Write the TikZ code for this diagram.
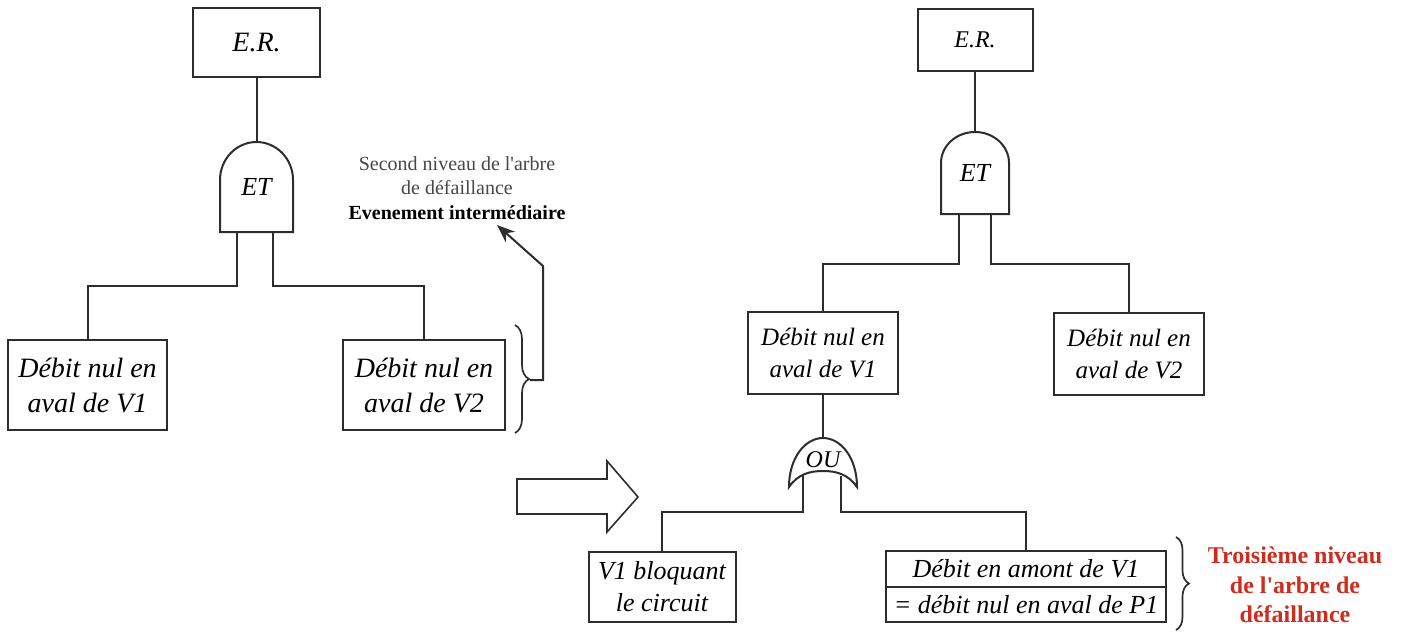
\documentclass[tikz,border=0pt]{standalone}
\usepackage{fontspec}
\setmainfont{Liberation Serif}
\usetikzlibrary{decorations.pathreplacing,arrows.meta}
\definecolor{ink}{RGB}{45,45,45}
\definecolor{levelred}{RGB}{205,45,30}
\newcommand{\fsz}[2]{\fontsize{#1pt}{#2pt}\selectfont}
\begin{document}
\begin{tikzpicture}[x=1pt,y=-1pt,
  wire/.style={draw=ink, line width=2pt},
  box/.style={wire, rectangle, inner sep=0pt, outer sep=0pt, align=center},
  gatebox/.style={rectangle, inner sep=0pt, outer sep=0pt},
  bracket/.style={wire, line width=1.7pt, decorate, decoration={brace, amplitude=#1}},
]
\useasboundingbox (0,0) rectangle (1403,632);

% ---------- left tree: second level ----------
\node[box, minimum width=127pt, minimum height=69pt, font=\fsz{28}{34}\itshape] (erL) at (256.5,42.5) {E.R.};
\node[gatebox, minimum width=73pt, minimum height=90pt, font=\fsz{26}{30}\itshape] (gL) at (256.5,187) {ET};
\draw[wire] (gL.south west) -- (220,180) arc[start angle=180, end angle=0, x radius=36.5pt, y radius=38pt] -- (gL.south east) -- cycle;
\node[box, minimum width=159pt, minimum height=90pt, font=\fsz{28}{35}\itshape] (v1L) at (87.5,385) {Débit nul en\\aval de V1};
\node[box, minimum width=162pt, minimum height=90pt, font=\fsz{28}{35}\itshape] (v2L) at (424,385) {Débit nul en\\aval de V2};

\draw[wire] (erL.south) -- (gL.north);
\coordinate (gLa) at (237,232);
\coordinate (gLb) at (273,232);
\draw[wire] (gLa) -- (237,286) -| (v1L.north);
\draw[wire] (gLb) -- (273,286) -| (v2L.north);

% annotation of the second level
\draw[bracket=14pt] (515,325) -- (515,433);
\coordinate (bLtip) at (530,380);
\node[align=center, font=\fsz{20}{24.5}, text=black!72] (ann) at (457,188)
  {Second niveau de l\textquotesingle arbre\\de défaillance\\\textcolor{black}{\bfseries Evenement intermédiaire}};
\draw[wire, -{Stealth[length=18pt,width=14pt]}] (bLtip) -- (543,380) -- (543,266) -- ([xshift=40pt,yshift=-2pt]ann.south);

% ---------- transition arrow ----------
\draw[wire, line width=1.6pt, line join=miter] (517,479) -- (607,479) -- (607,461) -- (638,497) -- (607,532) -- (607,514) -- (517,514) -- cycle;

% ---------- right tree: third level ----------
\node[box, minimum width=115pt, minimum height=62pt, font=\fsz{24}{30}\itshape] (erR) at (975,40) {E.R.};
\node[gatebox, minimum width=68pt, minimum height=82pt, font=\fsz{26}{30}\itshape] (gR) at (975,173) {\raisebox{-4pt}{ET}};
\draw[wire] (gR.south west) -- (941,163) arc[start angle=180, end angle=0, x radius=34pt, y radius=31pt] -- (gR.south east) -- cycle;
\node[box, minimum width=150pt, minimum height=82pt, font=\fsz{25}{32}\itshape] (v1R) at (823,353) {Débit nul en\\aval de V1};
\node[box, minimum width=150pt, minimum height=82pt, font=\fsz{25}{32}\itshape] (v2R) at (1129,354) {Débit nul en\\aval de V2};

\draw[wire] (erR.south) -- (gR.north);
\coordinate (gRa) at (959,214);
\coordinate (gRb) at (991,214);
\draw[wire] (gRa) -- (959,264) -| (v1R.north);
\draw[wire] (gRb) -- (991,264) -| (v2R.north);

% OR gate
\node[gatebox, minimum width=68pt, minimum height=44pt, font=\fsz{24}{30}\itshape] (gO) at (823,460) {OU};
\draw[wire] (789,487) .. controls (789,458) and (805,438) .. (823,438)
  .. controls (841,438) and (857,458) .. (857,487)
  .. controls (848,474) and (836,471) .. (823,471)
  .. controls (810,471) and (798,474) .. (789,487) -- cycle;
\draw[wire] (v1R.south) -- (gO.north);

\node[box, minimum width=147pt, minimum height=70pt, font=\fsz{26}{32}\itshape] (bl) at (662,587) {V1 bloquant\\le circuit};
\node[box, minimum width=280pt, minimum height=71pt, font=\fsz{26}{36}\itshape] (dm) at (1026,586.5) {Débit en amont de V1\\= débit nul en aval de P1};
\draw[wire] (dm.west) -- (dm.east);

\coordinate (gOa) at (803,476);
\coordinate (gOb) at (841,476);
\draw[wire] (gOa) -- (803,512) -| (bl.north);
\draw[wire] (gOb) -- (841,512) -| (dm.north);

% annotation of the third level
\draw[bracket=13pt] (1176,537) -- (1176,630);
\node[align=center, font=\fsz{24}{29.5}\bfseries, text=levelred] (lvl3) at (1295,585)
  {Troisième niveau\\de l\textquotesingle arbre de\\défaillance};
\end{tikzpicture}
\end{document}
